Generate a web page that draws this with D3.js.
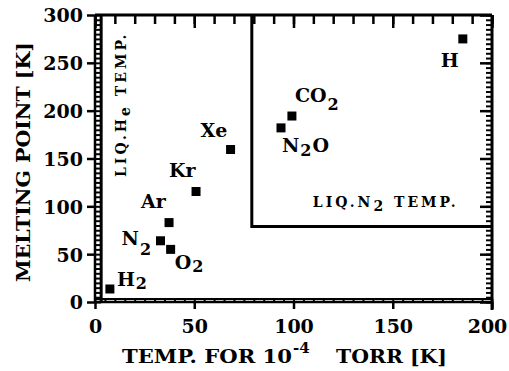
<!DOCTYPE html>
<html>
<head>
<meta charset="utf-8">
<script src="https://cdn.jsdelivr.net/npm/d3@7"></script>
<style>
  body { margin: 0; background: #fff; }
  text { font-family: "DejaVu Serif", "Liberation Serif", serif; font-weight: bold; fill: #000; }
</style>
</head>
<body>
<div id="chart"></div>
<script>
// gases, temperature for 1e-4 torr vs melting point
var gases = ["H_2", "N_2", "Ar", "O_2", "Kr", "Xe", "N_2O", "CO_2", "H"];
var tempAt1e4 = [7.5, 33, 37.3, 38.1, 50.9, 68.3, 93.7, 99.2, 185.3];
var meltPoint = [13.6, 64, 83, 55, 115.5, 159.4, 182, 194.4, 275];

var xTicks = [0, 50, 100, 150, 200];
var yTicks = [0, 50, 100, 150, 200, 250, 300];

var liqHe = 3.1;   // liquid helium line
var liqN2 = 79;    // liquid nitrogen box

// label placement relative to marker (px): dx, dy, subscript shift
var labelPos = [
    [7, -3, 3], [-39, 4, 10], [-28, -15, 0], [4, 20, 3], [-27, -15, 0],
    [-30, -13, 0], [1, 24, 4], [3, -14, 8], [-22, 28, 0]
];

var width = 509, height = 371;

var x = d3.scaleLinear().domain([0, 200]).range([95, 492]);
var y = d3.scaleLinear().domain([0, 300]).range([302, 15]);

var svg = d3.select("#chart").append("svg")
    .attr("width", width)
    .attr("height", height)
    .style("background", "#fff");

function minorTicks(step, max) {
    return d3.range(0, max + 0.01, step);
}

function styleAxis(g, w) {
    g.select(".domain").remove();
    g.selectAll(".tick line").attr("stroke", "#000").attr("stroke-width", w);
    return g;
}

// left axis: major ticks outside with labels, ladder inside up to the He line
svg.append("g")
    .attr("transform", "translate(" + x(0) + ",0)")
    .call(d3.axisLeft(y).tickValues(yTicks).tickSize(8).tickPadding(4))
    .call(styleAxis, 2.5)
    .selectAll("text")
    .style("font-size", "19px")
    .attr("dy", "0.36em");

svg.append("g")
    .attr("transform", "translate(" + x(0) + ",0)")
    .call(d3.axisRight(y).tickValues(minorTicks(5, 300)).tickSize(x(liqHe) - x(0)).tickFormat(""))
    .call(styleAxis, 2);

// bottom axis
svg.append("g")
    .attr("transform", "translate(0," + y(0) + ")")
    .call(d3.axisBottom(x).tickValues(xTicks).tickSize(7).tickPadding(11))
    .call(styleAxis, 2.5)
    .selectAll("text")
    .style("font-size", "19px")
    .attr("dy", "0.71em")
    .attr("dx", function(d) { return d === 200 ? -5 : 0; });

svg.append("g")
    .attr("transform", "translate(0," + y(0) + ")")
    .call(d3.axisTop(x).tickValues(minorTicks(5, 200)).tickSize(y(0) - y(liqHe)).tickFormat(""))
    .call(styleAxis, 2);

// top axis
svg.append("g")
    .attr("transform", "translate(0," + y(300) + ")")
    .call(d3.axisBottom(x).tickValues(minorTicks(10, 200)).tickSize(9).tickFormat(""))
    .call(styleAxis, 2.5);
svg.append("g")
    .attr("transform", "translate(0," + y(300) + ")")
    .call(d3.axisBottom(x).tickValues(xTicks).tickSize(13).tickFormat(""))
    .call(styleAxis, 2.5);

// right axis
svg.append("g")
    .attr("transform", "translate(" + x(200) + ",0)")
    .call(d3.axisLeft(y).tickValues(minorTicks(5, 300)).tickSize(6).tickFormat(""))
    .call(styleAxis, 2);
svg.append("g")
    .attr("transform", "translate(" + x(200) + ",0)")
    .call(d3.axisLeft(y).tickValues(yTicks).tickSize(12).tickFormat(""))
    .call(styleAxis, 2.5);
svg.append("line")
    .attr("x1", x(200)).attr("x2", x(200))
    .attr("y1", y(300)).attr("y2", y(0) + 8)
    .attr("stroke", "#000").attr("stroke-width", 3);

// frame lines
svg.append("line")
    .attr("x1", x(0)).attr("x2", x(200))
    .attr("y1", y(300)).attr("y2", y(300))
    .attr("stroke", "#000").attr("stroke-width", 3);
svg.append("line")
    .attr("x1", x(0)).attr("x2", x(200))
    .attr("y1", y(0)).attr("y2", y(0))
    .attr("stroke", "#000").attr("stroke-width", 2.5);
svg.append("line")
    .attr("x1", x(0)).attr("x2", x(0))
    .attr("y1", y(300)).attr("y2", y(0))
    .attr("stroke", "#000").attr("stroke-width", 2.5);

// liquid He lines
svg.append("line")
    .attr("x1", x(liqHe)).attr("x2", x(liqHe))
    .attr("y1", y(300)).attr("y2", y(0))
    .attr("stroke", "#000").attr("stroke-width", 3);
svg.append("line")
    .attr("x1", x(0)).attr("x2", x(200))
    .attr("y1", y(liqHe)).attr("y2", y(liqHe))
    .attr("stroke", "#000").attr("stroke-width", 2);

// liquid N2 box
svg.append("path")
    .attr("d", "M" + x(liqN2) + "," + y(300) + "V" + y(liqN2) + "H" + x(200))
    .attr("fill", "none")
    .attr("stroke", "#000")
    .attr("stroke-width", 3);

// markers
var pts = gases.map(function(g, i) {
    return { name: g, tx: tempAt1e4[i], mp: meltPoint[i], pos: labelPos[i] };
});

svg.selectAll(".pt")
    .data(pts)
    .enter()
    .append("rect")
    .attr("class", "pt")
    .attr("x", function(d) { return x(d.tx) - 4.5; })
    .attr("y", function(d) { return y(d.mp) - 4.5; })
    .attr("width", 9)
    .attr("height", 9)
    .attr("fill", "#000");

// labels with subscripts written as "_2"
function writeChem(textSel, str, size, subSize, shift, gap) {
    var parts = str.split("_");
    textSel.append("tspan").style("font-size", size + "px").text(parts[0]);
    for (var i = 1; i < parts.length; i++) {
        textSel.append("tspan")
            .style("font-size", subSize + "px")
            .attr("dx", gap)
            .attr("dy", shift)
            .text(parts[i].charAt(0));
        if (parts[i].length > 1) {
            textSel.append("tspan")
                .style("font-size", size + "px")
                .attr("dx", gap)
                .attr("dy", -shift)
                .text(parts[i].slice(1));
        }
    }
}

svg.selectAll(".lbl")
    .data(pts)
    .enter()
    .append("text")
    .attr("class", "lbl")
    .attr("x", function(d) { return x(d.tx) + d.pos[0]; })
    .attr("y", function(d) { return y(d.mp) + d.pos[1]; })
    .each(function(d) { writeChem(d3.select(this), d.name, 19, 16, d.pos[2], 1); });

// liquid N2 label
var n2Label = svg.append("text")
    .attr("x", x(liqN2) + 61)
    .attr("y", y(liqN2) - 19)
    .style("letter-spacing", "3px");
writeChem(n2Label, "LIQ.N_2 TEMP.", 14, 14, 4, 0);

// liquid He label
var heLabel = svg.append("text")
    .attr("transform", "translate(126,177) rotate(-90)")
    .style("letter-spacing", "3px");
writeChem(heLabel, "LIQ.H_e TEMP.", 14, 14, 4, 0);

// axis titles
svg.append("text")
    .attr("x", 122)
    .attr("y", 363)
    .attr("textLength", 170)
    .attr("lengthAdjust", "spacingAndGlyphs")
    .style("font-size", "19px")
    .text("TEMP. FOR 10");
svg.append("text")
    .attr("x", 293)
    .attr("y", 353)
    .style("font-size", "15px")
    .text("-4");
svg.append("text")
    .attr("x", 336)
    .attr("y", 363)
    .attr("textLength", 111)
    .attr("lengthAdjust", "spacingAndGlyphs")
    .style("font-size", "19px")
    .text("TORR [K]");

svg.append("text")
    .attr("transform", "translate(30,162) rotate(-90)")
    .attr("text-anchor", "middle")
    .attr("textLength", 240)
    .attr("lengthAdjust", "spacingAndGlyphs")
    .style("font-size", "19px")
    .text("MELTING POINT [K]");
</script>
</body>
</html>
